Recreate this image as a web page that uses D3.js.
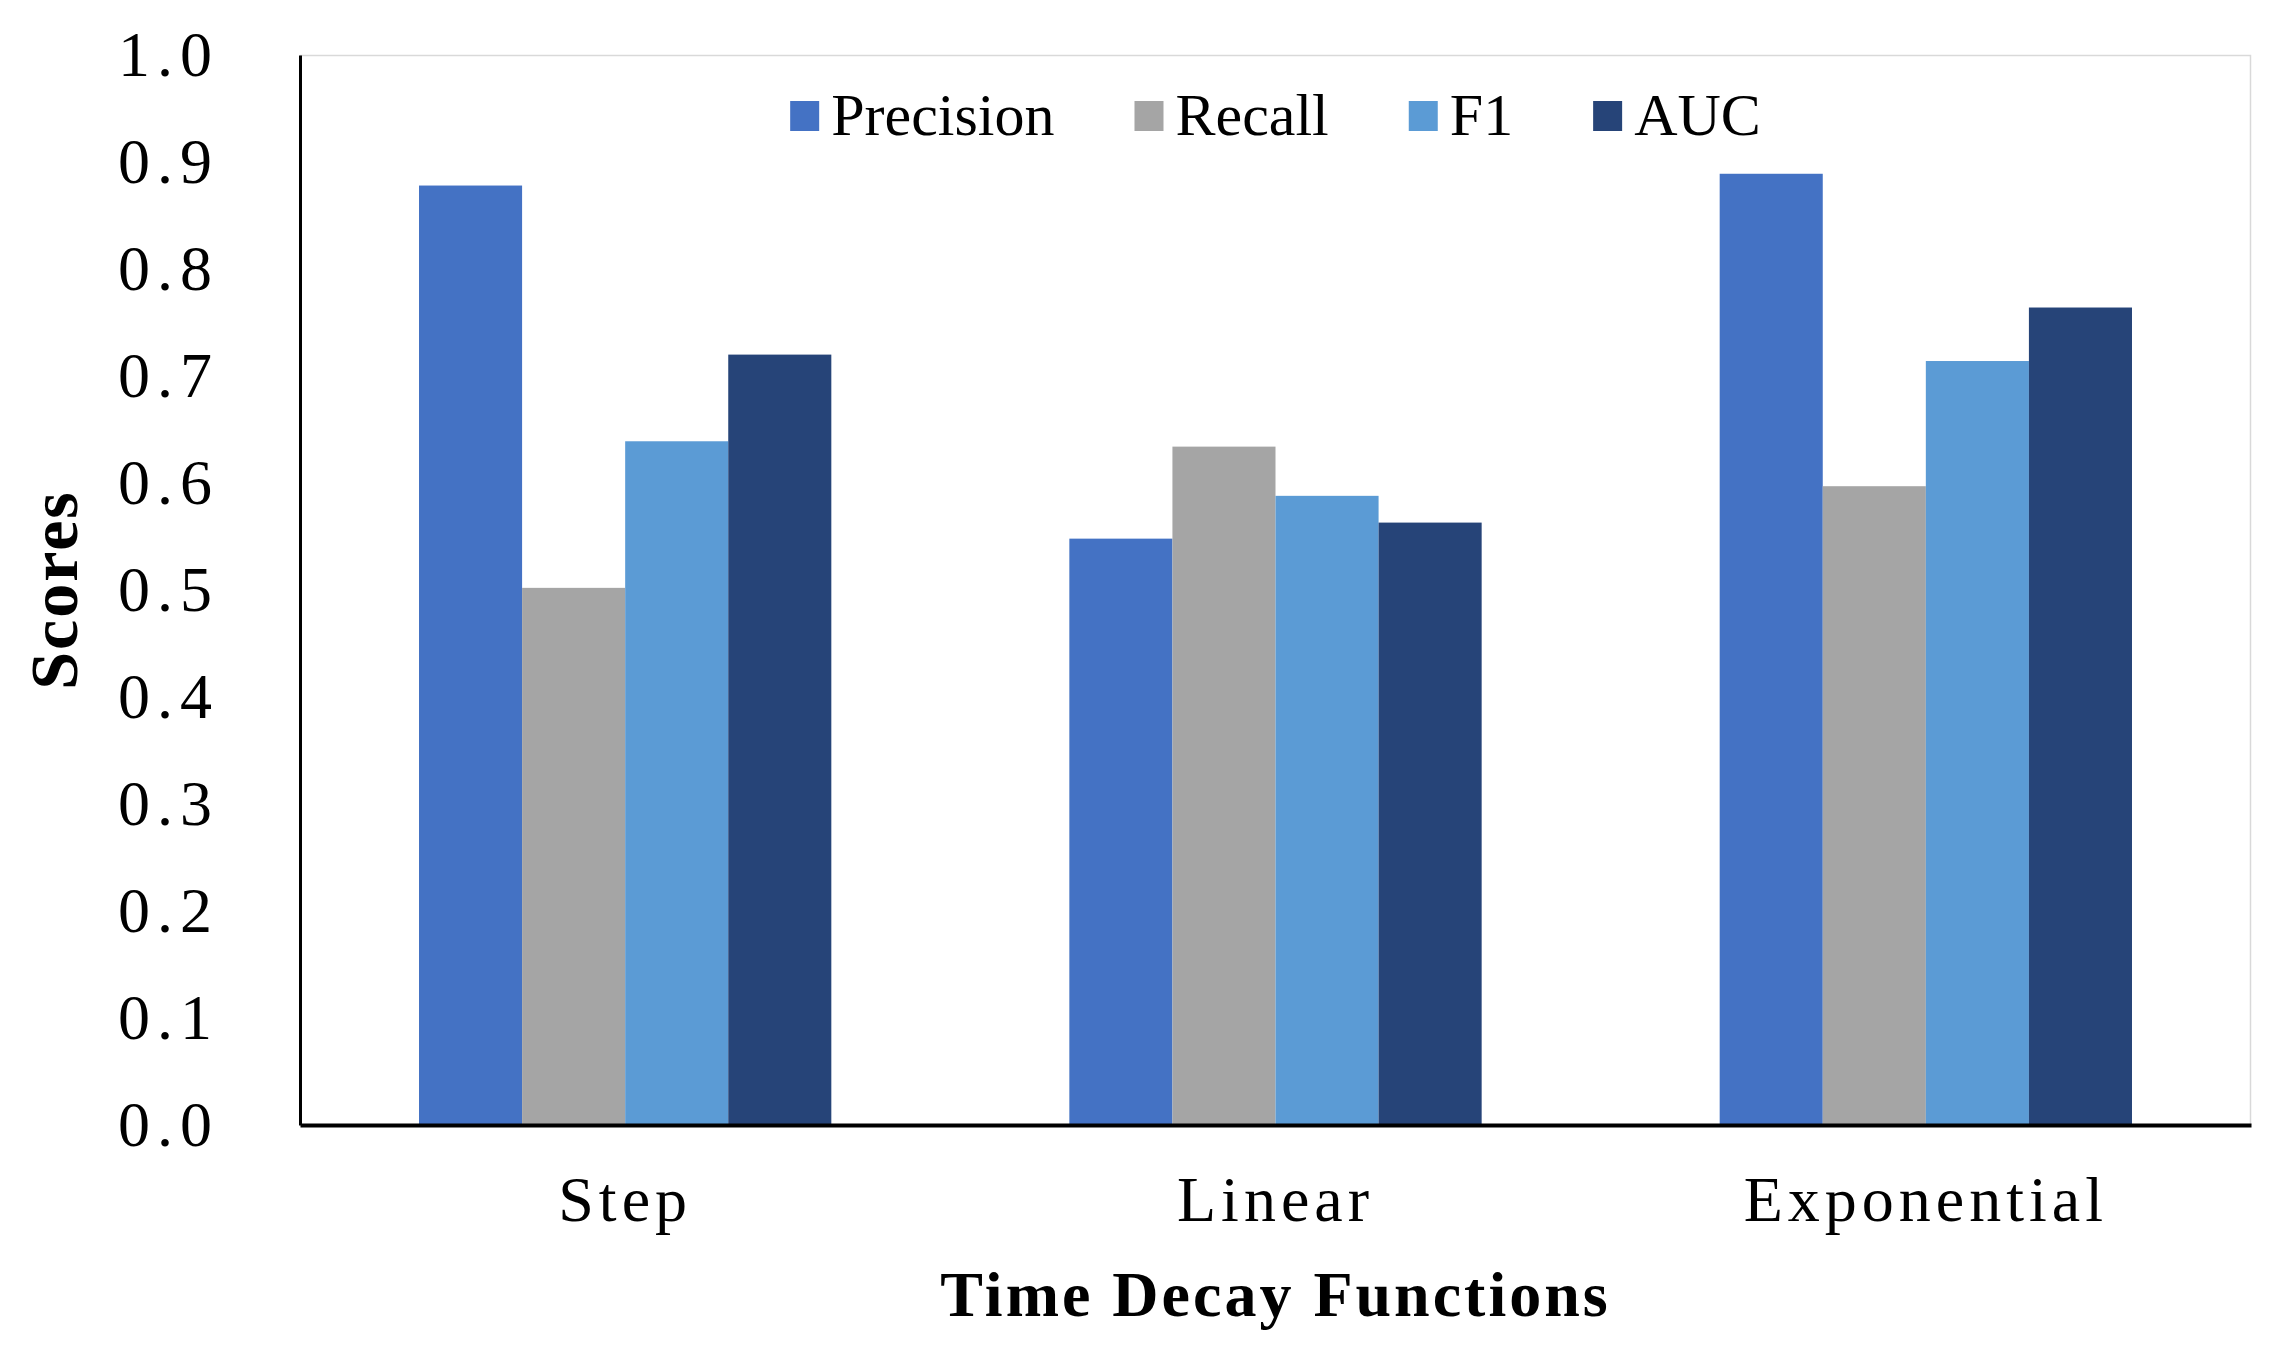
<!DOCTYPE html>
<html>
<head>
<meta charset="utf-8">
<script src="https://cdn.jsdelivr.net/npm/d3@7"></script>
<style>
  html, body { margin: 0; padding: 0; background: #fff; }
  svg { display: block; }
  text { font-family: "Liberation Serif", "DejaVu Serif", serif; fill: #000; }
</style>
</head>
<body>
<svg id="chart" width="2279" height="1351"></svg>
<script>
// ---------- データ ----------
const categories = ["Step", "Linear", "Exponential"];
const metrics = ["Precision", "Recall", "F1", "AUC"];
const precision = [0.878, 0.548, 0.889];
const recall = [0.502, 0.634, 0.597];
const f1 = [0.639, 0.588, 0.714];
const auc = [0.720, 0.563, 0.764];
const yTicks = [0, 0.1, 0.2, 0.3, 0.4, 0.5, 0.6, 0.7, 0.8, 0.9, 1.0];
const colors = ["#4472C4", "#A5A5A5", "#5B9BD5", "#264478"];

const series = [precision, recall, f1, auc];

// ---------- レイアウト ----------
const W = 2279, H = 1351;
const margin = { top: 55, right: 28, bottom: 226, left: 300 };
const iw = W - margin.left - margin.right;
const ih = H - margin.top - margin.bottom;

const svg = d3.select("#chart");
const g = svg.append("g").attr("transform", `translate(${margin.left},${margin.top})`);

const x = d3.scaleBand().domain(categories).range([0, iw]).paddingInner(0.366).paddingOuter(0.183);
const xs = d3.scaleBand().domain(metrics).range([0, x.bandwidth()]);
const y = d3.scaleLinear().domain([0, 1]).range([ih, 0]);
const color = d3.scaleOrdinal().domain(metrics).range(colors);

// プロット枠(上と右は薄いグレー)
g.append("path")
  .attr("d", `M0,0.5H${iw - 0.5}V${ih}`)
  .attr("fill", "none")
  .attr("stroke", "#d9d9d9")
  .attr("stroke-width", 1.5);

// ---------- 棒 ----------
const rows = categories.map((c, i) => ({ cat: c, vals: metrics.map((m, j) => ({ m, v: series[j][i] })) }));

g.append("g")
  .selectAll("g")
  .data(rows)
  .join("g")
  .attr("transform", (d) => `translate(${x(d.cat)},0)`)
  .selectAll("rect")
  .data((d) => d.vals)
  .join("rect")
  .attr("x", (d) => xs(d.m))
  .attr("y", (d) => y(d.v))
  .attr("width", xs.bandwidth())
  .attr("height", (d) => y(0) - y(d.v))
  .attr("fill", (d) => color(d.m));

// ---------- 軸 ----------
const yAxis = g.append("g")
  .call(d3.axisLeft(y).tickValues(yTicks).tickSize(0).tickSizeOuter(0).tickPadding(81).tickFormat(d3.format(".1f")));
yAxis.select(".domain").attr("stroke", "#000").attr("stroke-width", 3);
yAxis.selectAll("text")
  .style("font-family", '"Liberation Serif", serif')
  .style("font-size", "64px")
  .style("letter-spacing", "7px");

const xAxis = g.append("g")
  .attr("transform", `translate(0,${ih})`)
  .call(d3.axisBottom(x).tickSize(0).tickSizeOuter(0).tickPadding(51));
xAxis.select(".domain").attr("stroke", "#000").attr("stroke-width", 4);
xAxis.selectAll("text")
  .style("font-family", '"Liberation Serif", serif')
  .style("font-size", "64px")
  .style("letter-spacing", "5px");

// ---------- 軸タイトル ----------
svg.append("text")
  .attr("transform", `translate(77,${margin.top + ih / 2}) rotate(-90)`)
  .attr("text-anchor", "middle")
  .style("font-size", "68px")
  .style("font-weight", "bold")
  .style("letter-spacing", "2px")
  .text("Scores");

svg.append("text")
  .attr("x", margin.left + iw / 2)
  .attr("y", 1316)
  .attr("text-anchor", "middle")
  .style("font-size", "64px")
  .style("font-weight", "bold")
  .style("letter-spacing", "3px")
  .text("Time Decay Functions");

// ---------- 凡例 ----------
const SW = 29, GAP = 12, ITEM_GAP = 80;
const legend = svg.append("g");
const items = legend.selectAll("g").data(metrics).join("g");
items.append("rect")
  .attr("width", SW)
  .attr("height", 30)
  .attr("y", 101)
  .attr("fill", (d) => color(d));
items.append("text")
  .attr("x", SW + GAP)
  .attr("y", 135)
  .style("font-size", "60px")
  .text((d) => d);

const widths = [];
items.each(function () {
  widths.push(SW + GAP + d3.select(this).select("text").node().getComputedTextLength());
});
const total = d3.sum(widths) + ITEM_GAP * (metrics.length - 1);
let cx = margin.left + iw / 2 - total / 2;
items.attr("transform", (d, i) => {
  const t = `translate(${cx},0)`;
  cx += widths[i] + ITEM_GAP;
  return t;
});
</script>
</body>
</html>
